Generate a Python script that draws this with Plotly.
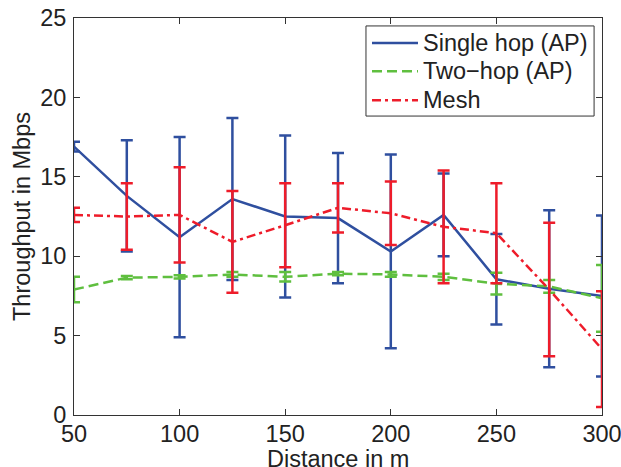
import plotly.graph_objects as go

distance = [50, 75, 100, 125, 150, 175, 200, 225, 250, 275, 300]

single_mean = [16.9, 13.8, 11.2, 13.6, 12.5, 12.4, 10.3, 12.6, 8.55, 7.95, 7.5]
single_err = [0.3, 3.5, 6.3, 5.1, 5.1, 4.1, 6.1, 2.6, 2.85, 4.95, 5.07]

two_mean = [7.9, 8.65, 8.7, 8.85, 8.7, 8.9, 8.85, 8.7, 8.27, 8.1, 7.35]
two_err = [0.8, 0.1, 0.1, 0.15, 0.3, 0.1, 0.15, 0.2, 0.68, 0.4, 2.1]

mesh_mean = [12.6, 12.5, 12.6, 10.9, 11.95, 13.05, 12.7, 11.85, 11.45, 7.9, 4.15]
mesh_err = [0.45, 2.1, 3.0, 3.2, 2.65, 1.55, 2.0, 3.55, 3.15, 4.2, 3.65]

names = ["Single hop (AP)", "Two\u2212hop (AP)", "Mesh"]
colors = ["#2f4f9f", "#5fbf3f", "#ee1c2a"]
dashes = ["solid", "10px,5px", "9px,4px,3px,4px"]

fig = go.Figure()
for name, ys, es, col, dsh in zip(names, [single_mean, two_mean, mesh_mean],
                                  [single_err, two_err, mesh_err], colors, dashes):
    fig.add_trace(go.Scatter(
        x=distance, y=ys, name=name, mode="lines", showlegend=False,
        line=dict(color=col, width=2.5, dash=dsh),
        error_y=dict(type="data", array=es, visible=True, color=col,
                     thickness=2.5, width=6),
        cliponaxis=False,
    ))

font_family = "Liberation Sans, Arial, sans-serif"
FS = 23.5
axis_common = dict(
    showline=True, linecolor="#333", linewidth=1, mirror="ticks",
    ticks="inside", ticklen=6, tickcolor="#333", showgrid=False, zeroline=False,
    automargin=False, ticklabeloverflow="allow",
    tickfont=dict(size=FS, color="#222", family=font_family),
)

# Legend drawn as box + samples + text (paper coordinates of the plot area)
leg_x0, leg_x1, leg_y0, leg_y1 = 0.553, 0.985, 0.753, 0.980
row_y = [0.937, 0.866, 0.793]
samp_x0, samp_x1, text_x = 0.5644, 0.6515, 0.657

shapes = [dict(type="rect", xref="paper", yref="paper", x0=leg_x0, x1=leg_x1,
               y0=leg_y0, y1=leg_y1, fillcolor="white",
               line=dict(color="#333", width=1), layer="above")]
annotations = []
for name, col, dsh, ry in zip(names, colors, dashes, row_y):
    shapes.append(dict(type="line", xref="paper", yref="paper", x0=samp_x0, x1=samp_x1,
                       y0=ry, y1=ry, line=dict(color=col, width=2.5, dash=dsh),
                       layer="above"))
    annotations.append(dict(text=name, xref="paper", yref="paper", x=text_x, y=ry,
                            xanchor="left", yanchor="middle", showarrow=False,
                            font=dict(size=FS, color="#222", family=font_family)))

# x-axis title placed just under the tick labels, as in the reference
annotations.append(dict(text="Distance in m", xref="paper", yref="paper", x=0.5,
                        y=-0.072, xanchor="center", yanchor="top", showarrow=False,
                        font=dict(size=FS, color="#222", family=font_family)))

fig.update_layout(
    width=621, height=467,
    margin=dict(l=74, r=19, t=18, b=52),
    plot_bgcolor="white", paper_bgcolor="white",
    font=dict(family=font_family, color="#222"),
    xaxis=dict(range=[50, 300], tickvals=[50, 100, 150, 200, 250, 300],
               ticklabelstandoff=-2, **axis_common),
    yaxis=dict(range=[0, 25], tickvals=[0, 5, 10, 15, 20, 25],
               ticklabelstandoff=2,
               title=dict(text="Throughput in Mbps", font=dict(size=FS), standoff=2),
               **axis_common),
    shapes=shapes,
    annotations=annotations,
    showlegend=False,
)

fig.write_html("out.html", config={"displayModeBar": False},
               post_script="document.body.style.margin='0';")
